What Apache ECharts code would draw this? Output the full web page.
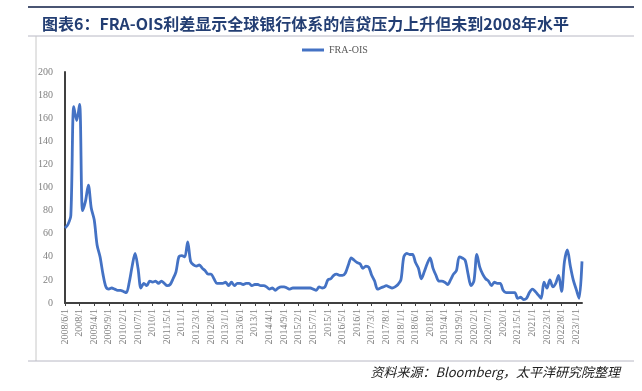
<!DOCTYPE html>
<html>
<head>
<meta charset="utf-8">
<script src="https://cdn.jsdelivr.net/npm/echarts@6/dist/echarts.min.js"></script>
<style>
html,body{margin:0;padding:0;background:#fff;}
#c{width:642px;height:391px;}
</style>
</head>
<body>
<div id="c"></div>
<script>
// ---- data ----
const titleText = '图表6：FRA-OIS利差显示全球银行体系的信贷压力上升但未到2008年水平';
const sourceText = '资料来源：Bloomberg，太平洋研究院整理';
const seriesName = 'FRA-OIS';
const startYear = 2008, startMonth = 6; // first category 2008/6/1, monthly
const fraOis = [
  65, 68, 76, 170, 158, 172, 80, 88, 102, 82,
  72, 50, 40, 25, 14, 12, 13, 12, 11, 11,
  10, 9, 18, 32, 43, 30, 13, 17, 15, 19,
  18, 19, 17, 19, 17, 15, 16, 21, 27, 40,
  41, 40, 53, 36, 33, 32, 33, 30, 28, 25,
  25, 21, 17, 17, 17, 18, 15, 18, 15, 17,
  17, 16, 17, 17, 15, 16, 16, 15, 15, 14,
  12, 13, 11, 13, 14, 14, 13, 12, 13, 13,
  13, 13, 13, 13, 13, 12, 11, 14, 13, 14,
  20, 21, 24, 25, 24, 24, 26, 33, 39, 37,
  35, 34, 30, 32, 31, 24, 19, 12, 13, 14,
  15, 14, 13, 14, 16, 20, 40, 43, 42, 42,
  35, 30, 21, 27, 34, 39, 30, 24, 19, 19,
  18, 16, 20, 25, 28, 40, 39, 37, 25, 15,
  19, 42, 31, 25, 21, 19, 15, 18, 17, 17,
  11, 9, 9, 9, 9, 4, 5, 3, 4, 9,
  12, 10, 7, 4, 18, 13, 20, 14, 17, 24,
  10, 36, 46, 32, 20, 12, 4, 36
];
const yTicks = {min: 0, max: 200, interval: 20};

const categories = [];
for (let i = 0; i < fraOis.length; i++) {
  const t = (startYear * 12 + startMonth - 1) + i;
  categories.push(Math.floor(t / 12) + '/' + (t % 12 + 1) + '/1');
}

const chart = echarts.init(document.getElementById('c'));
const serif = '"Liberation Serif","DejaVu Serif",serif';
chart.setOption({
  animation: false,
  backgroundColor: '#fff',
  title: {
    text: titleText,
    left: 37, top: 11,
    textStyle: {fontFamily: '"Noto Sans CJK SC"', fontSize: 16, fontWeight: 'bold', color: '#233e73'}
  },
  legend: {
    data: [seriesName],
    top: 40, left: 297,
    itemWidth: 22, itemHeight: 3, itemGap: 4,
    icon: 'rect',
    textStyle: {fontFamily: serif, fontSize: 10, color: '#595959'}
  },
  grid: {left: 65, right: 60, top: 72, bottom: 88, containLabel: false},
  xAxis: {
    type: 'category',
    data: categories,
    boundaryGap: false,
    axisLine: {lineStyle: {color: '#404040', width: 2}},
    axisTick: {show: true, interval: 4, length: 3, lineStyle: {color: '#404040'}},
    axisLabel: {
      interval: 4, rotate: 90, margin: 6,
      fontFamily: serif, fontSize: 10, color: '#808080',
      formatter: function (v) {
        const p = v.split('/');
        return p[1].length > 1 ? p[0] + '/1' : v;
      }
    },
    splitLine: {show: false}
  },
  yAxis: {
    type: 'value',
    min: yTicks.min, max: yTicks.max, interval: yTicks.interval,
    axisLine: {show: true, lineStyle: {color: '#404040', width: 2}},
    axisTick: {show: false},
    axisLabel: {margin: 12, fontFamily: serif, fontSize: 10, color: '#808080'},
    splitLine: {show: false}
  },
  series: [{
    name: seriesName,
    type: 'line',
    data: fraOis,
    smooth: 0.3,
    symbol: 'none',
    lineStyle: {color: '#4472c4', width: 2.8},
    itemStyle: {color: '#4472c4'}
  }],
  graphic: [
    {type: 'line', shape: {x1: 28, y1: 7, x2: 634, y2: 7}, style: {stroke: '#4a5573', lineWidth: 2}},
    {type: 'line', shape: {x1: 28, y1: 36, x2: 634, y2: 36}, style: {stroke: '#b8b8c4', lineWidth: 1}},
    {type: 'line', shape: {x1: 36, y1: 36, x2: 36, y2: 361}, style: {stroke: '#c8c8c8', lineWidth: 1}},
    {type: 'line', shape: {x1: 28, y1: 361, x2: 634, y2: 361}, style: {stroke: '#b8b8c4', lineWidth: 1}},
    {type: 'text', right: 22, top: 366,
     style: {text: sourceText, font: 'italic 13px "Noto Sans CJK SC"', fill: '#222'}}
  ]
});
</script>
</body>
</html>
